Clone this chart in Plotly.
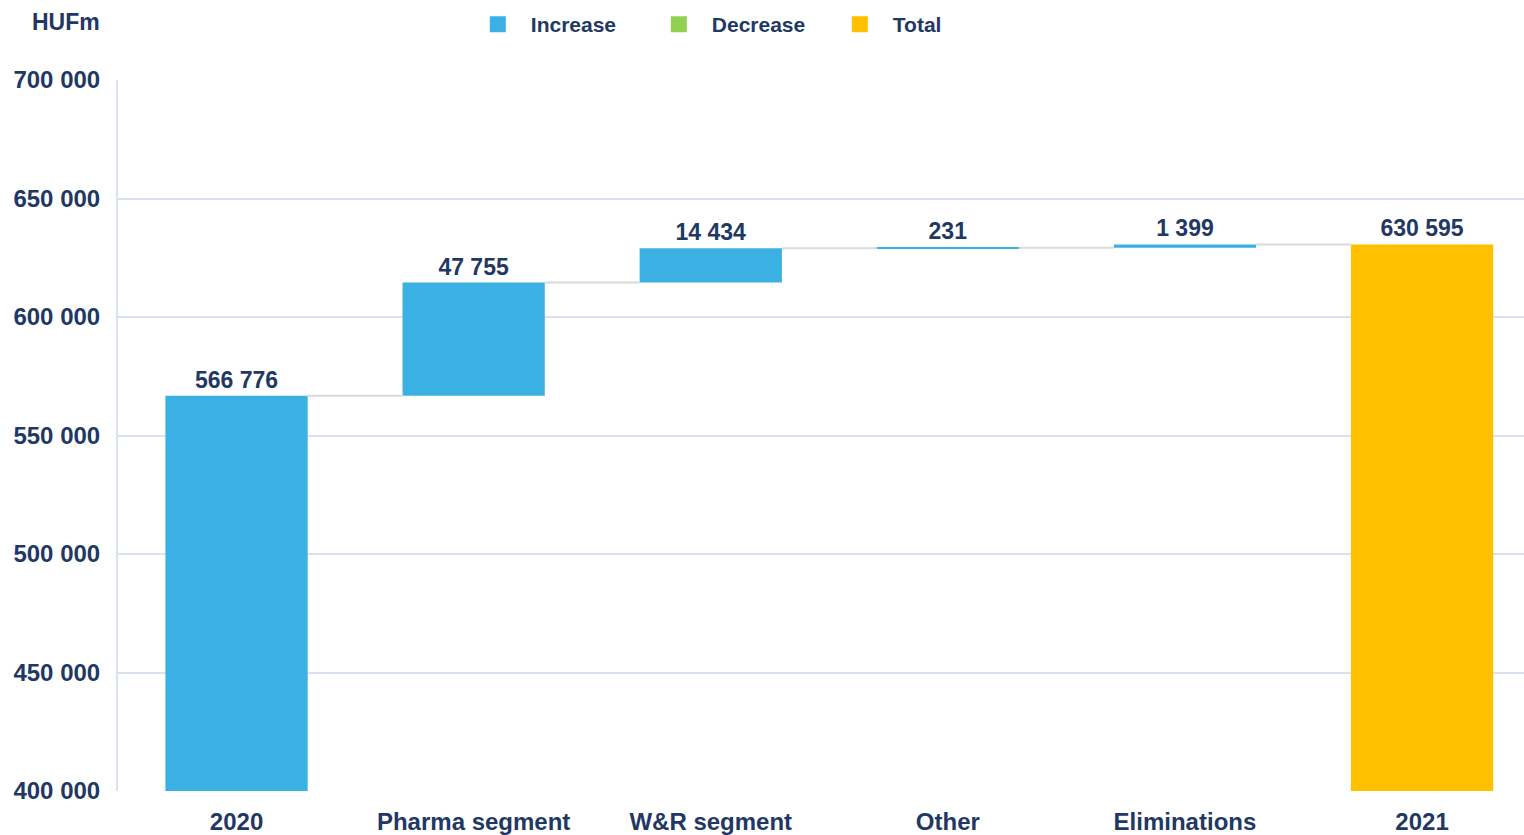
import plotly.graph_objects as go

categories = ["2020", "Pharma segment", "W&R segment", "Other", "Eliminations", "2021"]
start_value = 566776
changes = [47755, 14434, 231, 1399]
end_value = 630595

tick_vals = [400000, 450000, 500000, 550000, 600000, 650000, 700000]

BLUE = "#3AB1E2"
GREEN = "#92D050"
YELLOW = "#FFC000"
NAVY = "#1F3864"
GRID = "#D9E1F2"
FONT = "Liberation Sans, Arial, sans-serif"


def fmt(v):
    return f"{v:,}".replace(",", " ")


# running totals for the floating bars
levels = [start_value]
for c in changes:
    levels.append(levels[-1] + c)

inc_x = list(range(len(changes) + 1))
inc_base = [0] + levels[:-1]
inc_y = [start_value] + changes
inc_text = [fmt(v) for v in inc_y]

total_x = [len(categories) - 1]

fig = go.Figure()

# connectors between bar tops
cx, cy = [], []
bar_w = 0.6
for i, lvl in enumerate(levels):
    cx += [i + bar_w / 2, i + 1 - bar_w / 2, None]
    cy += [lvl, lvl, None]
fig.add_trace(go.Scatter(
    x=cx, y=cy, mode="lines", line={"color": "#D9D9D9", "width": 2},
    showlegend=False, hoverinfo="skip",
))

text_font = {"family": FONT, "size": 23, "color": NAVY, "weight": "bold"}

fig.add_trace(go.Bar(
    x=inc_x, y=inc_y, base=inc_base, width=bar_w, showlegend=False,
    marker={"color": BLUE, "line": {"width": 0}},
    text=inc_text, textposition="outside", textfont=text_font,
    constraintext="none", cliponaxis=False,
))
fig.add_trace(go.Bar(
    x=total_x, y=[end_value], base=[0], width=bar_w, showlegend=False,
    marker={"color": YELLOW, "line": {"width": 0}},
    text=[fmt(end_value)], textposition="outside", textfont=text_font,
    constraintext="none", cliponaxis=False,
))

# legend-only entries
for name, color in [("Increase", BLUE), ("Decrease", GREEN), ("Total", YELLOW)]:
    fig.add_trace(go.Scatter(
        name=name, x=[None], y=[None], mode="markers",
        marker={"symbol": "square", "size": 17, "color": color},
    ))

fig.update_layout(
    width=1524,
    height=835,
    template="simple_white",
    paper_bgcolor="white",
    plot_bgcolor="white",
    barmode="overlay",
    font={"family": FONT, "color": NAVY, "size": 23, "weight": "bold"},
    margin={"l": 118, "r": 0, "t": 80, "b": 44},
    legend={
        "orientation": "h",
        "xref": "container",
        "yref": "container",
        "x": 0.305,
        "xanchor": "left",
        "y": 1 - 4 / 835,
        "yanchor": "top",
        "font": {"family": FONT, "size": 21, "color": NAVY, "weight": "bold"},
        "itemwidth": 56,
        "entrywidth": 110,
        "traceorder": "normal",
    },
    annotations=[{
        "text": "HUFm", "xref": "paper", "yref": "paper",
        "x": (30 - 118) / 1406, "y": 1 + (80 - 22) / 711,
        "xanchor": "left", "yanchor": "middle",
        "showarrow": False,
        "font": {"family": FONT, "size": 23, "color": NAVY, "weight": "bold"},
    }],
)

fig.update_xaxes(
    range=[-0.5, 5.43],
    tickvals=list(range(len(categories))),
    ticktext=categories,
    showline=False,
    ticks="",
    showgrid=False,
    ticklabelstandoff=14,
    tickfont={"family": FONT, "size": 24, "color": NAVY, "weight": "bold"},
)
fig.update_yaxes(
    range=[400000, 700000],
    tickvals=tick_vals,
    ticktext=[fmt(v) for v in tick_vals],
    showgrid=True,
    gridcolor=GRID,
    gridwidth=2,
    showline=True,
    linecolor=GRID,
    linewidth=2,
    ticks="",
    ticklabelstandoff=11,
    zeroline=False,
    tickfont={"family": FONT, "size": 24, "color": NAVY, "weight": "bold"},
)

fig.write_html(
    "out.html",
    config={"displayModeBar": False},
    post_script="document.body.style.margin = '0';",
)
